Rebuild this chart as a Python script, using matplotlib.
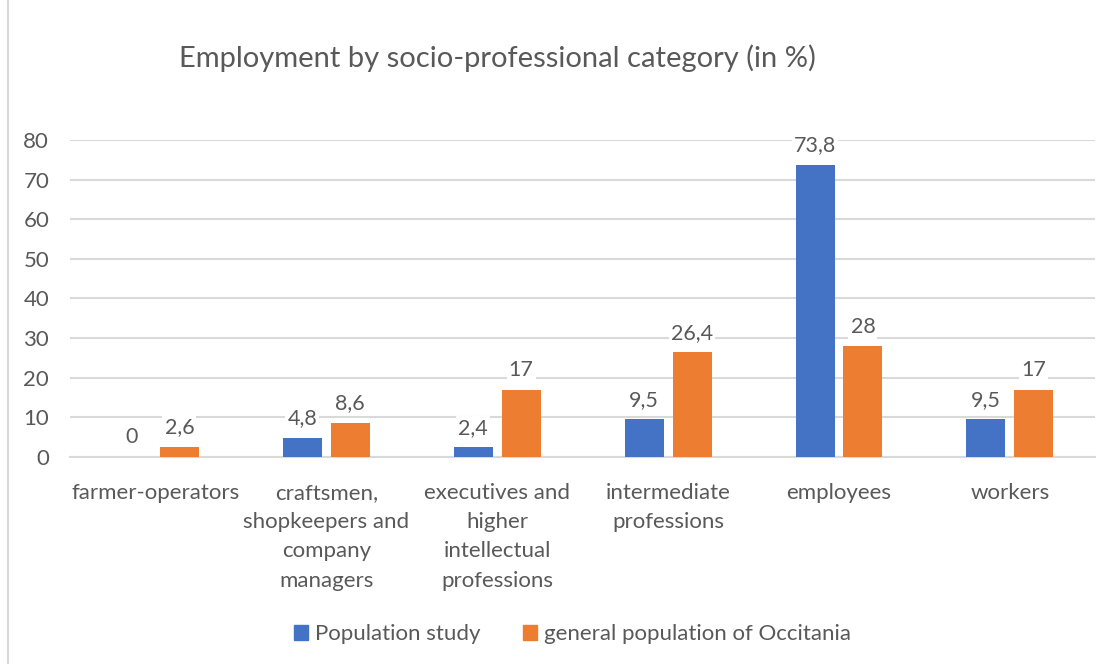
import matplotlib.pyplot as plt
import numpy as np
from matplotlib.lines import Line2D
from matplotlib.patches import Patch

plt.rcParams['font.family'] = ['Lato', 'DejaVu Sans']

categories = ["farmer-operators",
              "craftsmen,\nshopkeepers and\ncompany\nmanagers",
              "executives and\nhigher\nintellectual\nprofessions",
              "intermediate\nprofessions",
              "employees",
              "workers"]
study = [0, 4.8, 2.4, 9.5, 73.8, 9.5]
occitania = [2.6, 8.6, 17, 26.4, 28, 17]
series_names = ["Population study", "general population of Occitania"]

BLUE = "#4472C4"
ORANGE = "#ED7D31"
TXT = "#595959"
GRID = "#D9D9D9"

fig = plt.figure(figsize=(11.12, 6.64), dpi=100)
ax = fig.add_axes([0.063, 0.312, 0.922, 0.477])

x = np.arange(len(categories))
w = 0.228
off = 0.14
b1 = ax.bar(x - off, study, w, color=BLUE, label=series_names[0], zorder=3)
b2 = ax.bar(x + off, occitania, w, color=ORANGE, label=series_names[1], zorder=3)


def fmt(v):
    s = ("%g" % v).replace(".", ",")
    return s


for bars, vals in [(b1, study), (b2, occitania)]:
    for rect, v in zip(bars, vals):
        ax.annotate(fmt(v), xy=(rect.get_x() + rect.get_width() / 2, v),
                    xytext=(0, 14), textcoords="offset points",
                    ha="center", va="center", fontsize=15.5, color=TXT,
                    bbox=dict(boxstyle="square,pad=0.1", fc="white", ec="none"),
                    zorder=4)

ax.set_xlim(-0.5, len(categories) - 0.5)
ax.set_ylim(0, 80)
ax.set_yticks(range(0, 81, 10))
ax.set_xticks(x)
ax.set_xticklabels(categories, linespacing=1.57)
ax.tick_params(axis="both", length=0, labelsize=16, labelcolor=TXT)
ax.tick_params(axis="y", pad=15)
ax.tick_params(axis="x", pad=19)
ax.yaxis.grid(True, color=GRID, lw=1.5, zorder=0)
for s in ["top", "right", "left"]:
    ax.spines[s].set_visible(False)
ax.spines["bottom"].set_color(GRID)
ax.spines["bottom"].set_linewidth(1.5)

fig.text(0.447, 0.912, "Employment by socio-professional category (in %)",
         ha="center", va="center", fontsize=21, color=TXT)

handles = [Patch(color=BLUE), Patch(color=ORANGE)]
fig.legend(handles, series_names, loc="center", bbox_to_anchor=(0.515, 0.045),
           ncol=2, frameon=False, fontsize=16, labelcolor=TXT,
           handlelength=0.63, handleheight=0.63, handletextpad=0.32,
           columnspacing=1.9)

fig.add_artist(Line2D([8 / 1112, 8 / 1112], [0, 1], color=GRID, lw=1.5))

fig.savefig("out.png", dpi=100)
